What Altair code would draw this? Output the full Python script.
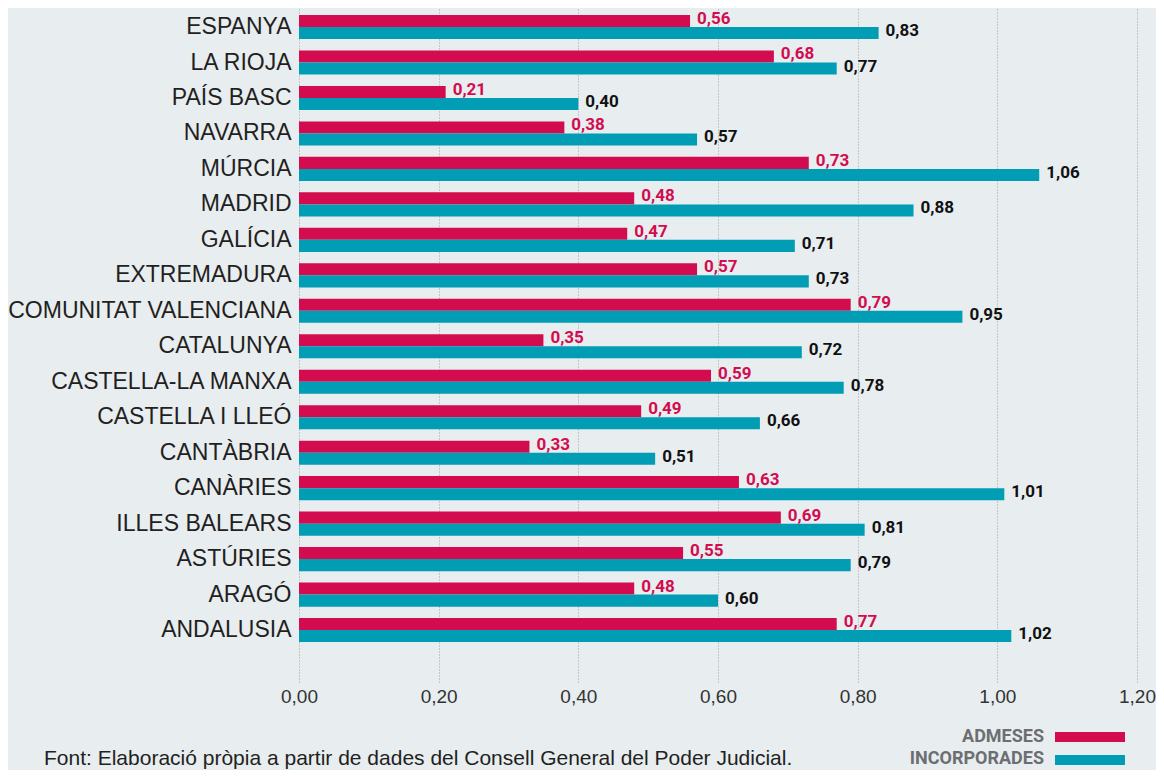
import altair as alt
import pandas as pd

regions = ["ESPANYA", "LA RIOJA", "PAÍS BASC", "NAVARRA", "MÚRCIA", "MADRID", "GALÍCIA",
           "EXTREMADURA", "COMUNITAT VALENCIANA", "CATALUNYA", "CASTELLA-LA MANXA",
           "CASTELLA I LLEÓ", "CANTÀBRIA", "CANÀRIES", "ILLES BALEARS", "ASTÚRIES",
           "ARAGÓ", "ANDALUSIA"]
admeses = [0.56, 0.68, 0.21, 0.38, 0.73, 0.48, 0.47, 0.57, 0.79, 0.35, 0.59, 0.49,
           0.33, 0.63, 0.69, 0.55, 0.48, 0.77]
incorporades = [0.83, 0.77, 0.40, 0.57, 1.06, 0.88, 0.71, 0.73, 0.95, 0.72, 0.78, 0.66,
                0.51, 1.01, 0.81, 0.79, 0.60, 1.02]
series = ["ADMESES", "INCORPORADES"]
x_ticks = [0.0, 0.2, 0.4, 0.6, 0.8, 1.0, 1.2]
source_note = "Font: Elaboració pròpia a partir de dades del Consell General del Poder Judicial."

RED = "#d20c4f"
TEAL = "#009db4"
BG = "#e8edf0"
TXT = "#231f20"
BOLD_FONT = "Roboto, 'Liberation Sans', sans-serif"

df = pd.DataFrame({
    "region": regions * 2,
    "series": [series[0]] * len(regions) + [series[1]] * len(regions),
    "value": admeses + incorporades,
})

y_enc = alt.Y("region:N", sort=regions,
              scale=alt.Scale(domain=regions, paddingInner=0.32, paddingOuter=0.661,
                              align=0.149, round=False),
              axis=alt.Axis(title=None, labelFont="Liberation Sans", labelFontSize=23,
                            labelColor=TXT, labelPadding=8, ticks=False, domain=False,
                            labelLimit=400, grid=False))
yoff = alt.YOffset("series:N", sort=series,
                   scale=alt.Scale(domain=series, paddingInner=0, paddingOuter=0))
x_enc = alt.X("value:Q",
              scale=alt.Scale(domain=[0, 1.2], nice=False, zero=True),
              axis=alt.Axis(title=None, values=x_ticks, grid=True, gridColor="#9a9fa3",
                            gridDash=[1, 2], gridWidth=1, ticks=False, domain=False,
                            labelExpr="replace(format(datum.value, '.2f'), '.', ',')",
                            labelFont="Liberation Sans", labelFontSize=19,
                            labelColor="#333333", labelBaseline="middle",
                            labelPadding=14, labelFlush=False))

base = alt.Chart(df)

bars = base.mark_bar().encode(
    x=x_enc,
    y=y_enc,
    yOffset=yoff,
    color=alt.Color("series:N", scale=alt.Scale(domain=series, range=[RED, TEAL]), legend=None),
)

labels = base.transform_calculate(
    label="replace(format(datum.value, '.2f'), '.', ',')"
).mark_text(align="left", baseline="middle", dx=7, dy=-2,
            font=BOLD_FONT, fontWeight="bold", fontSize=17).encode(
    x="value:Q",
    y=alt.Y("region:N", sort=regions),
    yOffset=yoff,
    text="label:N",
    color=alt.Color("series:N", scale=alt.Scale(domain=series, range=[RED, "#111111"]),
                    legend=None),
)

layers = [bars, labels]

# manual legend (label to the left of the swatch)
legend_y = [(734, 724, 734), (756, 747, 757)]
swatch_cols = [RED, TEAL]
for s, (ty, y1, y2), c in zip(series, legend_y, swatch_cols):
    d = alt.Chart(pd.DataFrame({"series": [s]}))
    layers.append(d.mark_text(align="right", baseline="alphabetic",
                              font=BOLD_FONT, fontWeight="bold",
                              fontSize=18, color="#6d6e71").encode(
        x=alt.value(745), y=alt.value(ty), text="series:N"))
    layers.append(d.mark_rect(color=c).encode(
        x=alt.value(756), x2=alt.value(826), y=alt.value(y1), y2=alt.value(y2)))

note = alt.Chart(pd.DataFrame({"note": [source_note]})).mark_text(
    align="left", baseline="alphabetic", font="Liberation Sans", fontSize=21, color=TXT
).encode(x=alt.value(-255), y=alt.value(757), text="note:N")
layers.append(note)

chart = alt.layer(*layers).resolve_scale(color="independent").properties(
    width=838, height=674,
    padding={"left": 291, "top": 0, "right": 19, "bottom": 88},
    autosize=alt.AutoSizeParams(type="none"),
    background=BG,
).configure_view(stroke=None)

chart.save("out.html", embed_options={"renderer": "svg", "actions": False})
